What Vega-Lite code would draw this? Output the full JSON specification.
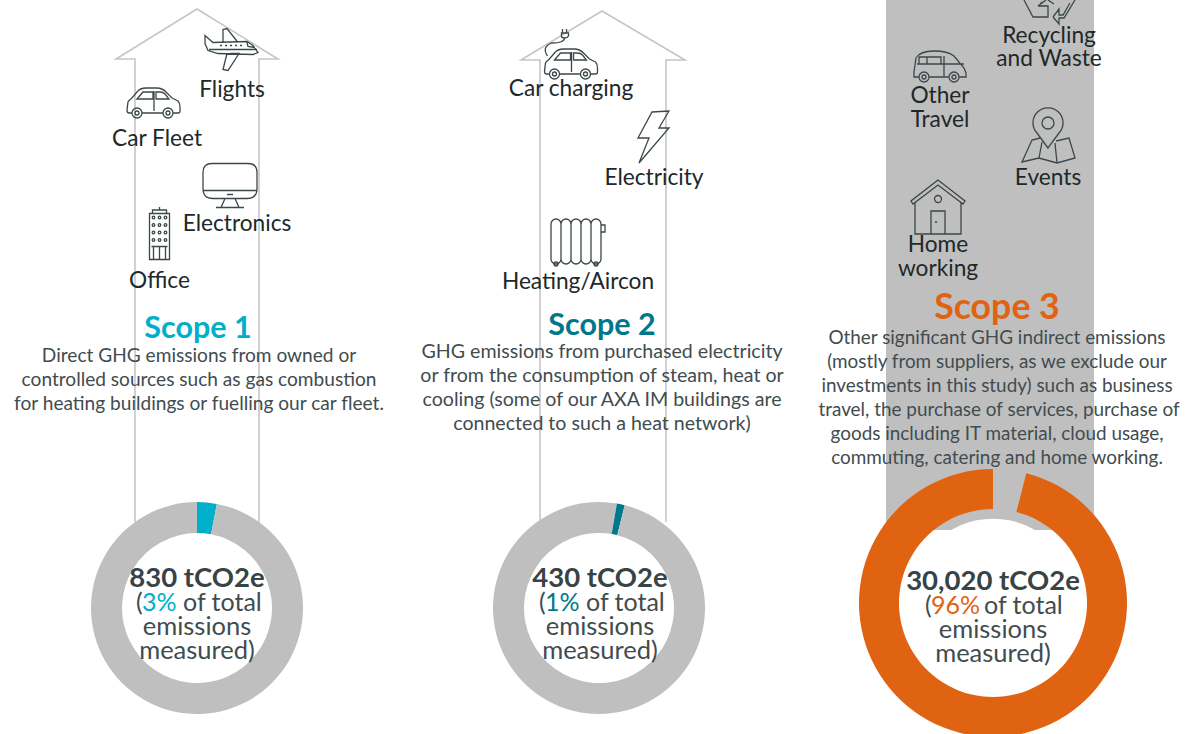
{
"$schema":"https://vega.github.io/schema/vega-lite/v6.json",
"width":1203,"height":734,"padding":0,"autosize":{"type":"none"},
"background":"white","view":{"stroke":null},
"config":{"text":{"font":"Lato"}},
"encoding":{
"x":{"field":"x","type":"quantitative","axis":null,"scale":{"domain":[0,1203],"nice":false,"zero":false}},
"y":{"field":"y","type":"quantitative","axis":null,"scale":{"domain":[0,734],"nice":false,"zero":false,"reverse":true}}
},
"layer":[
{"data":{"values":[{"x":886,"x2":1094,"y":0,"y2":530}]},"mark":{"type":"rect","color":"#bfbfbf"},"encoding":{"x2":{"field":"x2"},"y2":{"field":"y2"}}},
{"data":{"values":[
{"scope":"Scope 1","i":1,"x":135,"y":522},{"scope":"Scope 1","i":2,"x":135,"y":59},{"scope":"Scope 1","i":3,"x":116,"y":59},{"scope":"Scope 1","i":4,"x":197,"y":9},{"scope":"Scope 1","i":5,"x":278,"y":59},{"scope":"Scope 1","i":6,"x":259,"y":59},{"scope":"Scope 1","i":7,"x":259,"y":522},
{"scope":"Scope 2","i":1,"x":540,"y":522},{"scope":"Scope 2","i":2,"x":540,"y":60},{"scope":"Scope 2","i":3,"x":521,"y":60},{"scope":"Scope 2","i":4,"x":602,"y":11},{"scope":"Scope 2","i":5,"x":685,"y":60},{"scope":"Scope 2","i":6,"x":666,"y":60},{"scope":"Scope 2","i":7,"x":666,"y":522}
]},"mark":{"type":"line","stroke":"#c6c6c6","strokeWidth":1.6},"encoding":{"detail":{"field":"scope"},"order":{"field":"i","type":"quantitative"}}},
{"data":{"values":[{"x":993,"y":603}]},"mark":{"type":"point","filled":true,"color":"white","opacity":1,"size":28400},"encoding":{}},
{"data":{"values":[
{"x":197,"y":608,"start":0,"end":3,"part":"Scope 1"},{"x":197,"y":608,"start":3,"end":100,"part":"Rest"},
{"x":599,"y":608,"start":0,"end":2.7,"part":"Rest"},{"x":599,"y":608,"start":2.7,"end":3.9,"part":"Scope 2"},{"x":599,"y":608,"start":3.9,"end":100,"part":"Rest"}
]},"mark":{"type":"arc","radius":106,"radius2":75},"encoding":{
"theta":{"field":"start","type":"quantitative","scale":{"domain":[0,100],"range":[0,6.28318]}},"theta2":{"field":"end"},
"color":{"field":"part","type":"nominal","legend":null,"scale":{"domain":["Rest","Scope 1","Scope 2","Scope 3","Ink"],"range":["#bfbfbf","#00afc9","#00788c","#e06311","#414c4f"]}}}},
{"data":{"values":[
{"x":993,"y":603,"start":0,"end":4,"part":"Rest"},{"x":993,"y":603,"start":4,"end":100,"part":"Scope 3"}
]},"mark":{"type":"arc","radius":134,"radius2":94},"encoding":{
"theta":{"field":"start","type":"quantitative","scale":{"domain":[0,100],"range":[0,6.28318]}},"theta2":{"field":"end"},
"color":{"field":"part","type":"nominal","legend":null,"scale":{"domain":["Rest","Scope 1","Scope 2","Scope 3","Ink"],"range":["#bfbfbf","#00afc9","#00788c","#e06311","#414c4f"]}}}},
{"data":{"values":[
{"icon":"plane","x":231,"y":49.5},{"icon":"car","x":154,"y":103},{"icon":"monitor","x":230,"y":185.5},{"icon":"office","x":159.5,"y":233.5},
{"icon":"evcar","x":571.5,"y":60},{"icon":"bolt","x":654,"y":137},{"icon":"radiator","x":577,"y":243},
{"icon":"recycle","x":1050,"y":0},{"icon":"van","x":940,"y":67},{"icon":"pin","x":1048,"y":136},{"icon":"house","x":938,"y":207}
]},"mark":{"type":"point","filled":false,"opacity":1,"size":4,"stroke":"#3c4749","strokeWidth":1.3},"encoding":{
"shape":{"field":"icon","type":"nominal","legend":null,"scale":{"domain":["plane","car","monitor","office","evcar","bolt","radiator","recycle","van","pin","house"],"range":[
"M-26,-14L-18,-7L16,-8L22,-4L27,3L22,5L-13,4L-23,1L-26,-6Z M-8,-8L-8,-20L-4,-21L7,-7 M-1,4L8,4L-3,21L-8,20L-4,4 M-11,-4H-9 M-6,-4H-4 M-1,-4H1 M4,-4H6 M9,-4H11 M16,-7L17,-3L24,-2 M-22,0H26",
"M-22,10H-25Q-27,10 -27,7L-26,-1Q-25,-3 -23,-4L-17,-11Q-14,-15 -8,-15H3Q8,-15 12,-11L18,-5L24,-2Q26,0 26,4V8Q26,10 24,10H19 M-12,10H9 M-17,-4L-11,-11H-1V-4Z M2,-11H6Q9,-11 11,-9L15,-4H2Z M0,-12V8 M-22,10a5,5 0 1 0 10,0a5,5 0 1 0 -10,0 M-19,10a2,2 0 1 0 4,0a2,2 0 1 0 -4,0 M9,10a5,5 0 1 0 10,0a5,5 0 1 0 -10,0 M12,10a2,2 0 1 0 4,0a2,2 0 1 0 -4,0",
"M-18,-22H18Q27,-22 27,-13V3Q27,13 17,13H-17Q-27,13 -27,3V-13Q-27,-22 -18,-22Z M-27,5H27 M-3,9H3 M-5,13L-9,22 M5,13L9,22 M-14,22H14",
"M-10,26V-20H10V26Z M-7,-20V-23.5H7V-20 M0,-23.5V-26.5 M-10,26H10 M-8,13H8 M-6,13V26 M0,13V26 M6,13V26 M-7.3,-16a1.3,1.3 0 1 0 2.6,0a1.3,1.3 0 1 0 -2.6,0 M-1.3,-16a1.3,1.3 0 1 0 2.6,0a1.3,1.3 0 1 0 -2.6,0 M4.7,-16a1.3,1.3 0 1 0 2.6,0a1.3,1.3 0 1 0 -2.6,0 M-7.3,-8.5a1.3,1.3 0 1 0 2.6,0a1.3,1.3 0 1 0 -2.6,0 M-1.3,-8.5a1.3,1.3 0 1 0 2.6,0a1.3,1.3 0 1 0 -2.6,0 M4.7,-8.5a1.3,1.3 0 1 0 2.6,0a1.3,1.3 0 1 0 -2.6,0 M-7.3,-1a1.3,1.3 0 1 0 2.6,0a1.3,1.3 0 1 0 -2.6,0 M-1.3,-1a1.3,1.3 0 1 0 2.6,0a1.3,1.3 0 1 0 -2.6,0 M4.7,-1a1.3,1.3 0 1 0 2.6,0a1.3,1.3 0 1 0 -2.6,0 M-7.3,6.5a1.3,1.3 0 1 0 2.6,0a1.3,1.3 0 1 0 -2.6,0 M-1.3,6.5a1.3,1.3 0 1 0 2.6,0a1.3,1.3 0 1 0 -2.6,0 M4.7,6.5a1.3,1.3 0 1 0 2.6,0a1.3,1.3 0 1 0 -2.6,0",
"M-22,14H-25Q-27,14 -27,11L-26,3Q-25,1 -23,0L-17,-7Q-14,-11 -8,-11H3Q8,-11 12,-7L18,-1L24,2Q26,4 26,8V12Q26,14 24,14H19 M-12,14H9 M-17,0L-11,-7H-1V0Z M2,-7H6Q9,-7 11,-5L15,0H2Z M0,-8V12 M-22,14a5,5 0 1 0 10,0a5,5 0 1 0 -10,0 M-19,14a2,2 0 1 0 4,0a2,2 0 1 0 -4,0 M9,14a5,5 0 1 0 10,0a5,5 0 1 0 -10,0 M12,14a2,2 0 1 0 4,0a2,2 0 1 0 -4,0 M-24,-4Q-30,-13 -20,-17Q-7,-17 -7,-22 M-10,-27H-3V-24Q-4,-22 -7,-22Q-10,-22 -10,-24Z M-9,-27V-31 M-5,-27V-31",
"M-2,-25L15,-26L5,-9L15,-9L-15,26L-5,1L-16,1Z",
"M-26,-19a5,5 0 0 1 10,0V16a5,5 0 0 1 -10,0Z M-16,-19a5,5 0 0 1 10,0V16a5,5 0 0 1 -10,0Z M-6,-19a5,5 0 0 1 10,0V16a5,5 0 0 1 -10,0Z M4,-19a5,5 0 0 1 10,0V16a5,5 0 0 1 -10,0Z M14,-19a5,5 0 0 1 10,0V16a5,5 0 0 1 -10,0Z M24,-18H28V-11H24 M-23,21a2,2 0 1 0 4,0a2,2 0 1 0 -4,0 M17,21a2,2 0 1 0 4,0a2,2 0 1 0 -4,0",
"M-26,0L-17,17H-2V6H-11L-8,2 M-4,0L-12,6 M3,17L9,24V18H14L25,0 M3,17L9,9V15H13L20,3 M-2,0L4,4",
"M-21,10H-26V5L-24,-9Q-20,-16 -6,-16Q8,-16 14,-11L24,1L26,6V10H19 M-11,10H9 M-23,-3H24 M-21,-3V-10H-13V-3 M-13,-10H1V-3 M4,-11V10 M-21,10a5,5 0 1 0 10,0a5,5 0 1 0 -10,0 M-18,10a2,2 0 1 0 4,0a2,2 0 1 0 -4,0 M9,10a5,5 0 1 0 10,0a5,5 0 1 0 -10,0 M12,10a2,2 0 1 0 4,0a2,2 0 1 0 -4,0",
"M0,12L-11,-3A15,15 0 1 1 11,-3Z M-6,-13a6,6 0 1 0 12,0a6,6 0 1 0 -12,0 M-8,2L-16,4L-26,26L-9,22L9,27L27,22L21,2L8,5 M-9,22L-6,6 M9,27L7,7",
"M0,-27L-27,-6L-25,-3L0,-22L25,-3L27,-6Z M-23,-5V27H23V-5 M-7,27V4H7V27 M-3,15H-1 M-3.5,-8a3.5,3.5 0 1 0 7,0a3.5,3.5 0 1 0 -7,0"
]}}}},
{"data":{"values":[
{"t":"Flights","x":232,"y":97},{"t":"Car Fleet","x":157,"y":146},{"t":"Electronics","x":237,"y":231},{"t":"Office","x":159.5,"y":287.5},
{"t":"Car charging","x":571,"y":96},{"t":"Electricity","x":654,"y":185},{"t":"Heating/Aircon","x":578,"y":289},
{"t":"Recycling","x":1049,"y":43},{"t":"and Waste","x":1049,"y":66},{"t":"Other","x":940,"y":103},{"t":"Travel","x":940,"y":127},{"t":"Events","x":1048,"y":185},{"t":"Home","x":938,"y":252},{"t":"working","x":938,"y":276}
]},"mark":{"type":"text","fontSize":22.7,"align":"center","baseline":"alphabetic","color":"#20282a"},"encoding":{"text":{"field":"t"}}},
{"data":{"values":[{"t":"Scope 1","x":198,"y":338,"part":"Scope 1"},{"t":"Scope 2","x":602,"y":335,"part":"Scope 2"}]},"mark":{"type":"text","fontSize":30.5,"fontWeight":"bold","align":"center","baseline":"alphabetic"},"encoding":{"text":{"field":"t"},"color":{"field":"part","type":"nominal","legend":null,"scale":{"domain":["Rest","Scope 1","Scope 2","Scope 3","Ink"],"range":["#bfbfbf","#00afc9","#00788c","#e06311","#414c4f"]}}}},
{"data":{"values":[{"t":"Scope 3","x":997,"y":319,"part":"Scope 3"}]},"mark":{"type":"text","fontSize":35.7,"fontWeight":"bold","align":"center","baseline":"alphabetic"},"encoding":{"text":{"field":"t"},"color":{"field":"part","type":"nominal","legend":null,"scale":{"domain":["Rest","Scope 1","Scope 2","Scope 3","Ink"],"range":["#bfbfbf","#00afc9","#00788c","#e06311","#414c4f"]}}}},
{"data":{"values":[
{"t":"Direct GHG emissions from owned or","x":199,"y":362},{"t":"controlled sources such as gas combustion","x":199,"y":386},{"t":"for heating buildings or fuelling our car fleet.","x":199,"y":410}
]},"mark":{"type":"text","fontSize":19.1,"align":"center","baseline":"alphabetic","color":"#414c4f"},"encoding":{"text":{"field":"t"}}},
{"data":{"values":[
{"t":"GHG emissions from purchased electricity","x":602,"y":358},{"t":"or from the consumption of steam, heat or","x":602,"y":382},{"t":"cooling (some of our AXA IM buildings are","x":602,"y":406},{"t":"connected to such a heat network)","x":602,"y":430}
]},"mark":{"type":"text","fontSize":19.6,"align":"center","baseline":"alphabetic","color":"#414c4f"},"encoding":{"text":{"field":"t"}}},
{"data":{"values":[
{"t":"Other significant GHG indirect emissions","x":997,"y":344},{"t":"(mostly from suppliers, as we exclude our","x":997,"y":368},{"t":"investments in this study) such as business","x":997,"y":392},{"t":"travel, the purchase of services, purchase of","x":999,"y":416},{"t":"goods including IT material, cloud usage,","x":997,"y":440},{"t":"commuting, catering and home working.","x":997,"y":464}
]},"mark":{"type":"text","fontSize":18.9,"align":"center","baseline":"alphabetic","color":"#414c4f"},"encoding":{"text":{"field":"t"}}},
{"data":{"values":[{"t":"830 tCO2e","x":197,"y":587},{"t":"430 tCO2e","x":600,"y":587},{"t":"30,020 tCO2e","x":993,"y":590}]},"mark":{"type":"text","fontSize":27.5,"fontWeight":"bold","align":"center","baseline":"alphabetic","color":"#384346"},"encoding":{"text":{"field":"t"}}},
{"data":{"values":[
{"t":"emissions","x":197,"y":635},{"t":"measured)","x":197,"y":659},{"t":"emissions","x":600,"y":635},{"t":"measured)","x":600,"y":659},{"t":"emissions","x":993,"y":638},{"t":"measured)","x":993,"y":662}
]},"mark":{"type":"text","fontSize":25.5,"align":"center","baseline":"alphabetic","color":"#414c4f"},"encoding":{"text":{"field":"t"}}},
{"data":{"values":[
{"t":"(","x":136,"y":611,"part":"Ink"},{"t":"3%","x":142,"y":611,"part":"Scope 1"},{"t":"of total","x":183,"y":611,"part":"Ink"},
{"t":"(","x":539,"y":611,"part":"Ink"},{"t":"1%","x":545,"y":611,"part":"Scope 2"},{"t":"of total","x":586,"y":611,"part":"Ink"},
{"t":"(","x":925,"y":614,"part":"Ink"},{"t":"96%","x":931,"y":614,"part":"Scope 3"},{"t":"of total","x":984,"y":614,"part":"Ink"}
]},"mark":{"type":"text","fontSize":25,"align":"left","baseline":"alphabetic"},"encoding":{"text":{"field":"t"},"color":{"field":"part","type":"nominal","legend":null,"scale":{"domain":["Rest","Scope 1","Scope 2","Scope 3","Ink"],"range":["#bfbfbf","#00afc9","#00788c","#e06311","#414c4f"]}}}}
]}
